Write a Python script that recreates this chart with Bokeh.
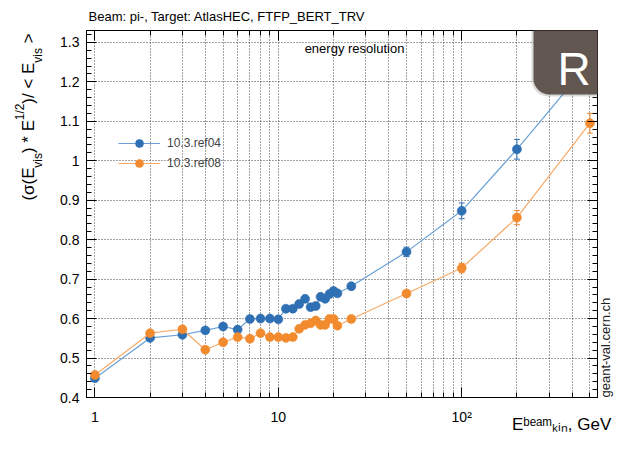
import math
import json
from bokeh.plotting import figure
from bokeh.models import (ColumnDataSource, FixedTicker, LinearAxis, LogAxis, Label,
                          Legend, LegendItem, Whisker, TeeHead, Title, BoxAnnotation,
                          CustomJSTickFormatter, Range1d)
from bokeh.embed import file_html
from bokeh.resources import INLINE

# ---------------- data ----------------
energies = [1, 2, 3, 4, 5, 6, 7, 8, 9, 10, 11, 12, 13, 14, 15, 16, 17, 18, 19, 20, 21, 25, 50, 100, 200, 500]
ref04 = [0.449, 0.551, 0.559, 0.570, 0.580, 0.572, 0.599, 0.600, 0.600, 0.598, 0.625, 0.625, 0.637,
         0.650, 0.629, 0.632, 0.655, 0.650, 0.662, 0.670, 0.664, 0.682, 0.769, 0.873, 1.029, 1.250]
ref04_err = [0.004, 0.004, 0.004, 0.004, 0.004, 0.004, 0.004, 0.004, 0.004, 0.004, 0.004, 0.004, 0.004,
             0.004, 0.004, 0.004, 0.005, 0.005, 0.005, 0.005, 0.006, 0.006, 0.012, 0.020, 0.025, 0.030]
ref08 = [0.457, 0.563, 0.573, 0.521, 0.540, 0.553, 0.549, 0.563, 0.553, 0.553, 0.551, 0.553, 0.574,
         0.584, 0.588, 0.595, 0.584, 0.584, 0.599, 0.599, 0.582, 0.599, 0.6635, 0.728, 0.856, 1.095]
ref08_err = [0.004, 0.004, 0.004, 0.004, 0.004, 0.004, 0.004, 0.004, 0.004, 0.004, 0.004, 0.004, 0.004,
             0.004, 0.004, 0.004, 0.004, 0.004, 0.005, 0.005, 0.005, 0.005, 0.008, 0.012, 0.018, 0.025]
series_names = ["10.3.ref04", "10.3.ref08"]
x_major = [1, 10, 100]
x_minor = [2, 3, 4, 5, 6, 7, 8, 9, 20, 30, 40, 50, 60, 70, 80, 90, 200, 300, 400, 500]
y_major = [0.4, 0.5, 0.6, 0.7, 0.8, 0.9, 1.0, 1.1, 1.2, 1.3]
y_minor = [round(0.4 + 0.02 * i, 2) for i in range(47)]

title_text = "Beam: pi-, Target: AtlasHEC, FTFP_BERT_TRV"
note_text = "energy resolution"
# y title as (text, role) pieces: role "main", "sub" or "sup"
ytitle = [("(\u03c3(E", "main"), ("vis", "sub"), (") * E", "main"), ("1/2", "sup"),
          (")/ < E", "main"), ("vis", "sub"), ("\u00a0>", "main")]
xlabel_text = "E\u1d47\u1d49\u1d43\u1d50\u2096\u1d62\u2099, GeV"
watermark = "geant-val.cern.ch"

# ---------------- layout ----------------
W, H = 625, 436
FL, FR, FT, FB = 86, 597, 30, 399
FONT = "Liberation Sans"
BLUE, BLUE_L = "#2f6fb3", "#6aa0d6"
ORANGE, ORANGE_L = "#f28a2e", "#f6aa68"
MAIN, SMALL = 17, 12

AW = {'(': 333, ')': 333, 'E': 667, 'v': 500, 'i': 222, 's': 500, ' ': 278, '\u00a0': 278, '*': 389,
      '1': 556, '/': 278, '2': 556, '<': 584, '>': 584, '\u03c3': 600, ',': 278, 'G': 778, 'e': 556,
      'V': 667, 'b': 556, 'a': 556, 'm': 833, 'k': 500, 'n': 556}

def tw(s, size):
    return sum(AW.get(c, 556) for c in s) * size / 1000.0

def fx(cx):
    return cx - FL

def fy(cy):
    return FB - cy

p = figure(width=W, height=H, x_axis_type="log", x_range=Range1d(0.9, 550),
           y_range=Range1d(0.4, 1.33), output_backend="svg", toolbar_location=None,
           min_border_left=FL, min_border_right=W - FR, min_border_top=FT,
           min_border_bottom=H - FB)
p.title = Title(text=title_text, align="left", offset=2, standoff=13, text_font=FONT,
                text_font_size="13px", text_font_style="normal", text_color="black")
p.background_fill_color = "white"
p.border_fill_color = "white"
p.outline_line_color = "black"
p.outline_line_width = 1
# pixel ranges for text-only axes placed in the side panels
p.extra_x_ranges = {"px": Range1d(0, FR - FL)}
p.extra_y_ranges = {"py": Range1d(0, FB - FT)}

xfmt = CustomJSTickFormatter(code="if (Math.abs(tick-100) < 1e-6) {return '10\u00b2';} return tick.toString();")
yfmt = CustomJSTickFormatter(code="return (Math.round(tick*10)/10).toString();")
nofmt = CustomJSTickFormatter(code="return '';")

def style_axis(ax, show_labels):
    ax.axis_line_color = "black"
    ax.major_tick_in = 10
    ax.major_tick_out = 0
    ax.minor_tick_in = 5
    ax.minor_tick_out = 0
    ax.major_tick_line_color = "black"
    ax.minor_tick_line_color = "black"
    ax.major_label_text_font = FONT
    ax.major_label_text_color = "black"
    ax.major_label_text_font_size = "14px"
    if not show_labels:
        ax.major_label_standoff = 0

xt = FixedTicker(ticks=x_major, minor_ticks=x_minor)
yt = FixedTicker(ticks=y_major, minor_ticks=y_minor)

p.xaxis.ticker = xt
p.xaxis.formatter = xfmt
p.yaxis.ticker = yt
p.yaxis.formatter = yfmt
style_axis(p.xaxis[0], True)
style_axis(p.yaxis[0], True)
p.xaxis.major_label_standoff = 11
p.yaxis.major_label_standoff = 7

top_ax = LogAxis(ticker=FixedTicker(ticks=x_major, minor_ticks=x_minor), formatter=nofmt)
style_axis(top_ax, False)
p.add_layout(top_ax, "above")
right_ax = LinearAxis(ticker=FixedTicker(ticks=y_major, minor_ticks=y_minor), formatter=nofmt)
style_axis(right_ax, False)
p.add_layout(right_ax, "right")

def text_axis(side, positions, texts, size, standoff, orient, color="black"):
    pos = [round(v, 1) for v in positions]
    code = ("const P = %s; const L = %s; let b = 0;"
            "for (let i = 0; i < P.length; i++) { if (Math.abs(P[i] - tick) < Math.abs(P[b] - tick)) b = i; }"
            "return L[b];") % (json.dumps(pos), json.dumps(texts))
    kw = dict(ticker=FixedTicker(ticks=pos, minor_ticks=[]), formatter=CustomJSTickFormatter(code=code))
    if side in ("above", "below"):
        ax = LinearAxis(x_range_name="px", **kw)
    else:
        ax = LinearAxis(y_range_name="py", **kw)
    ax.axis_line_color = None
    ax.major_tick_line_color = None
    ax.minor_tick_line_color = None
    ax.major_tick_in = 0
    ax.major_tick_out = 0
    ax.minor_tick_in = 0
    ax.minor_tick_out = 0
    ax.major_label_text_font = FONT
    ax.major_label_text_font_size = f"{size}px"
    ax.major_label_text_color = color
    ax.major_label_standoff = standoff
    ax.major_label_orientation = orient
    p.add_layout(ax, side)

# ---- y title: rotated, read bottom to top, ending near the frame top ----
ysize = {"main": MAIN, "sub": SMALL, "sup": SMALL}
L = sum(tw(t, ysize[r]) for t, r in ytitle)
cur = FT + 3 + L
rows = {"main": ([], []), "sub": ([], []), "sup": ([], [])}
for t, r in ytitle:
    w = tw(t, ysize[r])
    rows[r][0].append(FB - (cur - w / 2))
    rows[r][1].append(t)
    cur -= w
# layers outward from the frame: subscripts, main text, superscripts
text_axis("left", rows["sub"][0], rows["sub"][1], SMALL, 12, "vertical")
text_axis("left", rows["main"][0], rows["main"][1], MAIN, -10, "vertical")
text_axis("left", rows["sup"][0], rows["sup"][1], SMALL, -11, "vertical")

# ---- x title: right-aligned near the frame right ----
text_axis("below", [FR - 1 - 43 - FL], [xlabel_text], MAIN, -13, "horizontal")

# ---- watermark on the right edge (reads bottom to top, starts at the frame bottom) ----
text_axis("right", [0], [watermark], 13, 8, math.pi / 2, color="#222222")

p.xgrid.ticker = xt
p.ygrid.ticker = yt
for g in (p.xgrid[0], p.ygrid[0]):
    g.grid_line_color = "#444444"
    g.grid_line_dash = "1 2"
    g.grid_line_width = 1
p.xgrid.minor_grid_line_color = "#444444"
p.xgrid.minor_grid_line_dash = "1 2"
p.ygrid.minor_grid_line_color = None

# ---------------- series ----------------
src04 = ColumnDataSource(dict(x=energies, y=ref04,
                              lo=[v - e for v, e in zip(ref04, ref04_err)],
                              hi=[v + e for v, e in zip(ref04, ref04_err)]))
src08 = ColumnDataSource(dict(x=energies, y=ref08,
                              lo=[v - e for v, e in zip(ref08, ref08_err)],
                              hi=[v + e for v, e in zip(ref08, ref08_err)]))

items = []
for src, c, cl, name in ((src04, BLUE, BLUE_L, series_names[0]), (src08, ORANGE, ORANGE_L, series_names[1])):
    ln = p.line("x", "y", source=src, line_color=cl, line_width=1.2)
    wk = Whisker(source=src, base="x", upper="hi", lower="lo", dimension="height",
                 line_color=c, line_width=1,
                 upper_head=TeeHead(size=6, line_color=c, line_width=1),
                 lower_head=TeeHead(size=6, line_color=c, line_width=1))
    p.add_layout(wk)
    sc = p.scatter("x", "y", source=src, size=9, fill_color=c, line_color=c, line_alpha=0.6)
    items.append(LegendItem(label=name, renderers=[ln, sc]))

legend = Legend(items=items, location=(32, 224), padding=0, margin=0, spacing=0,
                glyph_width=42, glyph_height=20, label_height=20, label_standoff=7,
                label_text_font=FONT, label_text_font_size="12px", label_text_baseline="middle",
                border_line_color=None, background_fill_alpha=0)
p.add_layout(legend)

# ---------------- in-frame texts ----------------
p.add_layout(Label(x=fx(354), y=fy(50), x_units="screen", y_units="screen", text=note_text,
                   text_font=FONT, text_font_size="13px", text_color="black",
                   text_align="center", text_baseline="alphabetic"))

# ---------------- corner badge ----------------
p.add_layout(BoxAnnotation(left=fx(531), right=fx(700), top=fy(-20), bottom=fy(98),
                           left_units="screen", right_units="screen", top_units="screen",
                           bottom_units="screen", fill_color="#000000", fill_alpha=0.15,
                           line_color=None, border_radius=17))
p.add_layout(BoxAnnotation(left=fx(533), right=fx(700), top=fy(-20), bottom=fy(96),
                           left_units="screen", right_units="screen", top_units="screen",
                           bottom_units="screen", fill_color="#615650", fill_alpha=1.0,
                           line_color=None, border_radius=16))
p.add_layout(Label(x=fx(557), y=fy(70), x_units="screen", y_units="screen", text="R",
                   text_font=FONT, text_font_size="46px", text_color="white",
                   text_align="left", text_baseline="alphabetic"))

open("out.html", "w").write(file_html(p, INLINE))
